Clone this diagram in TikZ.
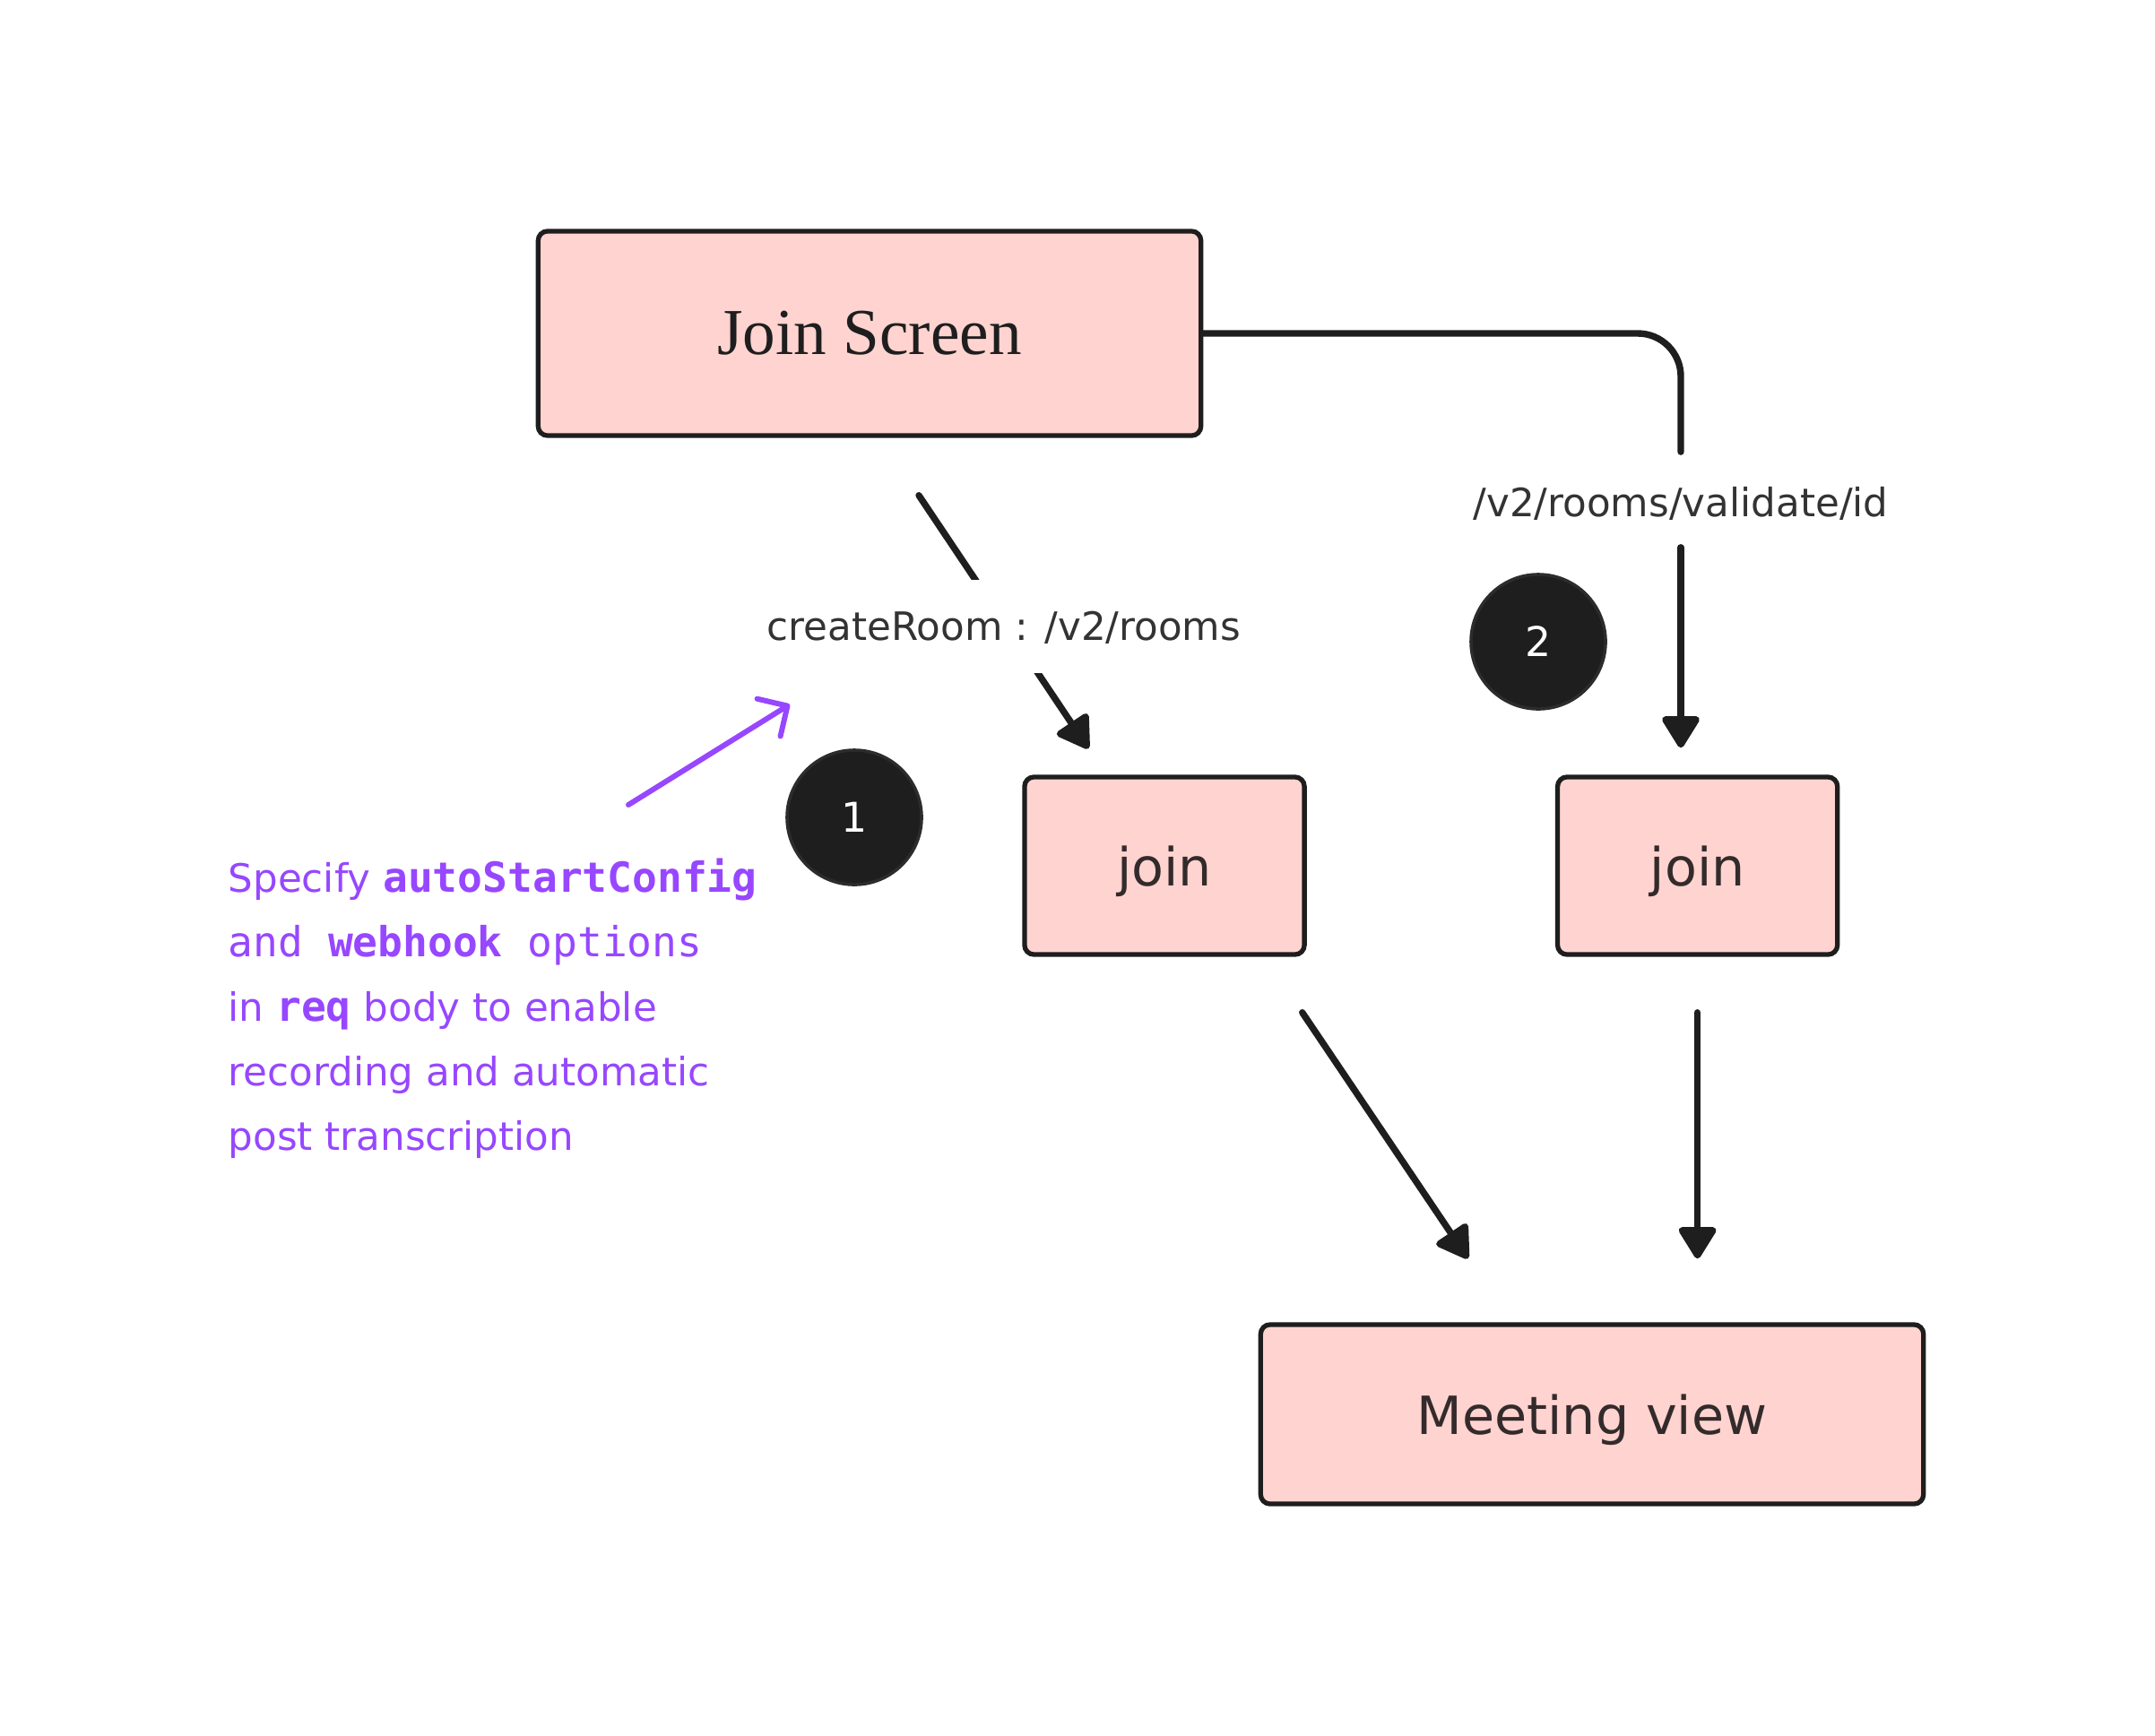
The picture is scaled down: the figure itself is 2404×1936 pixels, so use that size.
\documentclass[tikz,border=0pt]{standalone}
\usepackage{fontspec}
\setmainfont{DejaVu Sans}
\setmonofont{DejaVu Sans Mono}[Scale=1.06]
\newfontfamily\screenfont{Liberation Serif}
\usetikzlibrary{positioning, calc, arrows.meta}

\definecolor{ink}{HTML}{1E1E1E}
\definecolor{badgerim}{HTML}{2C2C2C}
\definecolor{roomfill}{HTML}{FFD3D0}
\definecolor{boxtext}{HTML}{332B2B}
\definecolor{labeltext}{HTML}{333333}
\definecolor{notepurple}{HTML}{9747FF}

\begin{document}
\begin{tikzpicture}[
		x=0.01cm, y=-0.01cm,
		screen/.style={rectangle, draw=ink, line width=1.5pt, fill=roomfill, rounded corners=3pt, minimum width=7.39cm, text=boxtext},
		stepbox/.style={rectangle, draw=ink, line width=1.5pt, fill=roomfill, rounded corners=3pt, minimum width=3.12cm, minimum height=1.98cm, text=boxtext, text depth=0pt, font=\fontsize{16.7pt}{20pt}\selectfont},
		badge/.style={circle, draw=badgerim, line width=1pt, fill=ink, minimum size=1.5cm, text=white, font=\fontsize{13pt}{15pt}\selectfont},
		edgelabel/.style={text=labeltext, inner sep=0pt, font=\fontsize{12.4pt}{15pt}\selectfont},
		note/.style={align=left, text=notepurple, inner sep=0pt, font=\fontsize{12.4pt}{20.5pt}\selectfont},
		link/.style={draw=ink, line width=2.1pt, line cap=round},
		flow/.style={link, -{Triangle[length=11pt, width=13pt, round]}},
		pointer/.style={draw=notepurple, line width=1.7pt, line cap=round, -{Straight Barb[length=7pt, width=14pt, round]}}
	]

	\useasboundingbox (0,0) rectangle (2404,1936);

	\node[screen, minimum height=2.28cm, text=ink, font=\screenfont\fontsize{20.8pt}{24pt}\selectfont] (jscreen) at (970,372) {Join Screen};
	\node[stepbox] (join1) at (1299,966) {join};
	\node[stepbox, right=2.77cm of join1] (join2) {join};
	\node[screen, minimum height=2cm, text depth=0pt, font=\fontsize{16.7pt}{20pt}\selectfont] (meeting) at (1776,1578) {Meeting view};

	\foreach \n/\x/\y in {1/953/912, 2/1716/716}
		\node[badge] (badge\n) at (\x,\y) {\n};

	% createRoom call, broken by its label
	\draw[flow] ($(jscreen.south)+(55,64)$) -- ($(join1.north west)+(74,-29)$);
	\node[edgelabel, fill=white, inner ysep=0.3cm, text height=1.05em, text depth=0.2em, anchor=base] (createlbl) at (1120,714) {createRoom : /v2/rooms};
	\node[edgelabel, anchor=base] (validlbl) at (1875,576) {/v2/rooms/validate/id};

	\node[note, anchor=north west] (note) at (254,957) {Specify \texttt{\textbf{autoStartConfig}}\\
		\texttt{and \textbf{webhook} options}\\
		in \texttt{\textbf{req}} body to enable\\
		recording and automatic\\
		post transcription};

	\draw[link, rounded corners=0.48cm, shorten >=0.38cm] (jscreen.east) -| (validlbl.north);
	\draw[flow, shorten <=0.3cm, shorten >=0.3cm] (validlbl.south) -- (validlbl.south |- join2.north);

	\draw[flow] ($(join1.south east)+(-5,62)$) -- ($(meeting.north west)+(234,-71)$);
	\draw[flow, shorten <=0.62cm, shorten >=0.71cm] (join2.south) -- (join2.south |- meeting.north);

	\draw[pointer] ($(note.north west)+(447,-59)$) -- ($(note.north west)+(627,-171)$);

\end{tikzpicture}
\end{document}
